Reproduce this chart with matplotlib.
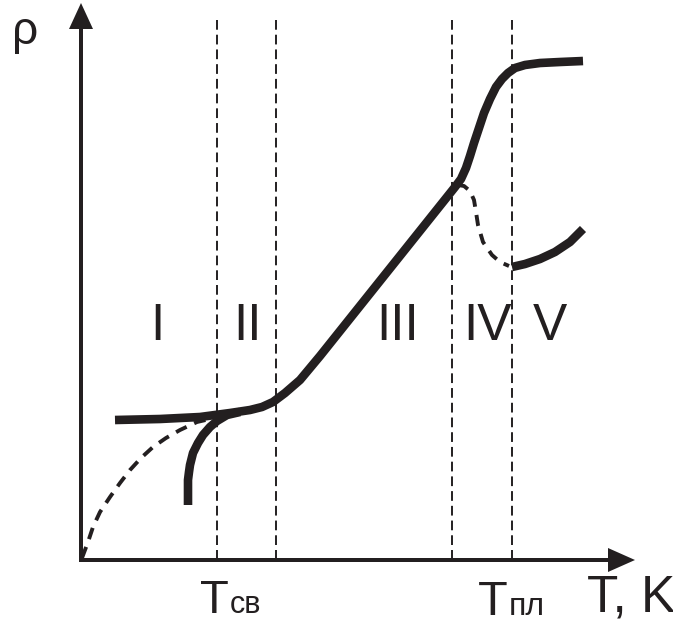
import matplotlib
matplotlib.use("Agg")
import matplotlib.pyplot as plt

plt.rcParams['font.family'] = ['Liberation Sans', 'DejaVu Sans']
plt.rcParams['lines.scale_dashes'] = False

ink = "#231f20"

# schematic data (x = T, y = rho, picture units, y grows down)
main_T = [115, 160, 200, 230, 250, 262, 273, 285, 300, 320, 455, 461, 466, 470, 474, 479, 484, 490, 496, 502, 508, 515, 525, 540, 560, 583]
main_rho = [420, 419, 417, 413, 410, 407, 402, 393, 380, 356, 187, 179, 168, 156, 143, 128, 113, 99, 87, 79, 73, 68, 65, 63, 62, 61]

low_T = [188, 188, 189, 190, 193, 198, 203, 210, 217, 227, 240]
low_rho = [505, 480, 472, 465, 453, 443, 435, 427, 421, 415, 412]

dash_T = [82, 88, 93, 100, 110, 120, 130, 141, 153, 166, 180, 197, 210]
dash_rho = [558, 542, 527, 512, 497, 483, 470, 458, 447, 438, 430, 422, 419]

melt_T = [458, 464, 470, 474, 476, 478, 483, 492, 500, 509]
melt_rho = [185, 186, 191, 200, 212, 225, 242, 255, 262, 266]

liq_T = [512, 525, 540, 555, 570, 583]
liq_rho = [267, 264, 259, 252, 242, 229]

borders = [217, 276, 452, 512]
zones = ["I", "II", "III", "IV", "V"]
zone_x = [157, 248, 398, 487, 550]

x0, y0 = 81, 560
x_end, y_top = 635, 3

fig = plt.figure(figsize=(6.73, 6.19), dpi=100)
ax = fig.add_axes([0, 0, 1, 1])
ax.set_xlim(0, 673)
ax.set_ylim(619, 0)
ax.axis("off")

for b in borders:
    ax.plot([b, b], [20, y0], color=ink, lw=1.4, dashes=(7, 3.6))

ax.arrow(x0, y0, x_end - x0, 0, width=4, head_width=24, head_length=27,
         length_includes_head=True, fc=ink, ec="none", zorder=3)
ax.arrow(x0, y0 + 2, 0, y_top - y0 - 2, width=4, head_width=24, head_length=26,
         length_includes_head=True, fc=ink, ec="none", zorder=3)

for xs, ys in [(main_T, main_rho), (low_T, low_rho), (liq_T, liq_rho)]:
    ax.plot(xs, ys, color=ink, lw=6.2, solid_joinstyle="round", solid_capstyle="butt")
ax.plot(dash_T, dash_rho, color=ink, lw=2.8, dashes=(8.5, 6))
ax.plot(melt_T, melt_rho, color=ink, lw=2.8, dashes=(8, 6))

for name, zx in zip(zones, zone_x):
    ax.text(zx, 340, name, fontsize=37, color=ink, ha="center", va="baseline")

ax.text(25, 44, "ρ", fontsize=33, color=ink, ha="center", va="baseline")

ax.text(200, 613, "T", fontsize=34, color=ink, ha="left", va="baseline")
ax.text(230, 613, "св", fontsize=22, color=ink, ha="left", va="baseline")
ax.text(478, 615, "T", fontsize=35, color=ink, ha="left", va="baseline")
ax.text(509, 615, "пл", fontsize=23, color=ink, ha="left", va="baseline")
ax.text(587, 611, "T, K", fontsize=37, color=ink, ha="left", va="baseline")

fig.savefig("out.png", dpi=100)
